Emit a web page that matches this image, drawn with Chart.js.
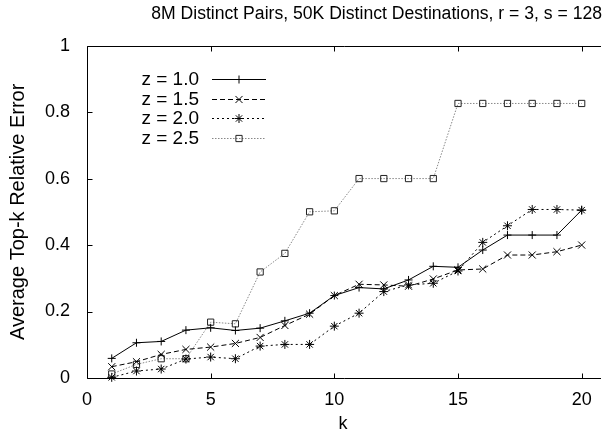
<!DOCTYPE html>
<html>
<head>
<meta charset="utf-8">
<script src="https://cdn.jsdelivr.net/npm/chart.js@4/dist/chart.umd.min.js"></script>
<style>
  html, body { margin: 0; padding: 0; background: #fff; }
  #wrap { width: 605px; height: 438px; }
</style>
</head>
<body>
<div id="wrap"><canvas id="topkChart"></canvas></div>
<script>
// data
const kValues = [1, 2, 3, 4, 5, 6, 7, 8, 9, 10, 11, 12, 13, 14, 15, 16, 17, 18, 19, 20];
const seriesLabels = ['z = 1.0', 'z = 1.5', 'z = 2.0', 'z = 2.5'];
const errZ10 = [0.059, 0.106, 0.110, 0.144, 0.151, 0.143, 0.150, 0.172, 0.195, 0.248, 0.272, 0.268, 0.295, 0.336, 0.333, 0.385, 0.430, 0.430, 0.430, 0.505];
const errZ15 = [0.034, 0.049, 0.071, 0.086, 0.093, 0.104, 0.122, 0.158, 0.192, 0.248, 0.282, 0.280, 0.276, 0.298, 0.325, 0.328, 0.370, 0.370, 0.380, 0.400];
const errZ20 = [0.002, 0.021, 0.027, 0.057, 0.063, 0.058, 0.096, 0.101, 0.101, 0.156, 0.195, 0.260, 0.280, 0.285, 0.322, 0.408, 0.458, 0.507, 0.507, 0.505];
const errZ25 = [0.012, 0.041, 0.058, 0.058, 0.168, 0.163, 0.319, 0.375, 0.500, 0.503, 0.600, 0.600, 0.600, 0.600, 0.826, 0.826, 0.826, 0.826, 0.826, 0.826];
const xTicks = [0, 5, 10, 15, 20];
const yTicks = [0, 0.2, 0.4, 0.6, 0.8, 1];

const FONT = '"Liberation Sans", Arial, Helvetica, sans-serif';
Chart.defaults.font.family = FONT;
Chart.defaults.color = '#000';

function toPoints(vals) {
    return vals.map((v, i) => ({ x: kValues[i], y: v }));
}

const styles = [
    { color: '#000', dash: [], point: 'cross', radius: 4, pointColor: '#000' },
    { color: '#000', dash: [5, 3], point: 'crossRot', radius: 5, pointColor: '#000' },
    { color: '#000', dash: [2, 3], point: 'star', radius: 4.5, pointColor: '#000' },
    { color: '#888', dash: [1.5, 1.5], point: 'rect', radius: 4.4, pointColor: '#222' }
];
const allSeries = [errZ10, errZ15, errZ20, errZ25];

const datasets = allSeries.map((vals, i) => ({
    label: seriesLabels[i],
    data: toPoints(vals),
    borderColor: styles[i].color,
    borderWidth: 1,
    borderDash: styles[i].dash,
    pointStyle: styles[i].point,
    pointRadius: styles[i].radius,
    pointBorderColor: styles[i].pointColor,
    pointBackgroundColor: 'rgba(0,0,0,0)',
    pointBorderWidth: 1,
    tension: 0,
    clip: false
}));

// gnuplot style frame: top/left/bottom lines with ticks pointing inward
const framePlugin = {
    id: 'frame',
    afterDatasetsDraw(chart) {
        const { ctx, chartArea } = chart;
        const xs = chart.scales.x, ys = chart.scales.y;
        const L = Math.round(chartArea.left) + 0.5;
        const T = Math.round(chartArea.top) + 0.5;
        const B = Math.round(chartArea.bottom) + 0.5;
        const R = chartArea.right + 2;
        ctx.save();
        ctx.strokeStyle = '#000';
        ctx.lineWidth = 1;
        ctx.setLineDash([]);
        ctx.beginPath();
        ctx.moveTo(R, T); ctx.lineTo(L, T); ctx.lineTo(L, B); ctx.lineTo(R, B);
        xTicks.forEach(v => {
            const px = Math.round(xs.getPixelForValue(v)) + 0.5;
            ctx.moveTo(px, B); ctx.lineTo(px, B - 5);
            ctx.moveTo(px, T); ctx.lineTo(px, T + 5);
        });
        yTicks.forEach(v => {
            const py = Math.round(ys.getPixelForValue(v)) + 0.5;
            ctx.moveTo(L, py); ctx.lineTo(L + 5, py);
        });
        ctx.stroke();
        ctx.restore();
    }
};

// legend inside the plot, text on the left and line sample on the right
const keyPlugin = {
    id: 'key',
    afterDraw(chart) {
        const { ctx } = chart;
        const textRight = 199, lineX1 = 212, lineX2 = 266, rowY0 = 79, rowGap = 19.5;
        ctx.save();
        ctx.font = '19px ' + FONT;
        ctx.textAlign = 'right';
        ctx.textBaseline = 'middle';
        chart.data.datasets.forEach((ds, i) => {
            const y = rowY0 + i * rowGap;
            ctx.fillStyle = '#000';
            ctx.fillText(ds.label, textRight, y + 1);
            ctx.strokeStyle = ds.borderColor;
            ctx.lineWidth = 1;
            ctx.setLineDash(ds.borderDash);
            ctx.beginPath();
            ctx.moveTo(lineX1, Math.round(y) + 0.5);
            ctx.lineTo(lineX2, Math.round(y) + 0.5);
            ctx.stroke();
            ctx.setLineDash([]);
            ctx.strokeStyle = ds.pointBorderColor;
            ctx.fillStyle = 'rgba(0,0,0,0)';
            Chart.helpers.drawPoint(ctx, {
                pointStyle: ds.pointStyle,
                radius: ds.pointRadius,
                rotation: 0,
                borderWidth: 1
            }, (lineX1 + lineX2) / 2, Math.round(y) + 0.5);
        });
        ctx.restore();
    }
};

const ctx = document.getElementById('topkChart').getContext('2d');
new Chart(ctx, {
    type: 'line',
    data: { datasets },
    options: {
        responsive: true,
        maintainAspectRatio: false,
        animation: false,
        layout: { padding: { left: 0, right: 3, top: 0, bottom: 0 } },
        plugins: {
            legend: { display: false },
            tooltip: { enabled: false },
            title: {
                display: true,
                text: '8M Distinct Pairs, 50K Distinct Destinations, r = 3, s = 128',
                align: 'end',
                color: '#000',
                font: { size: 17.6, weight: 'normal' },
                padding: { top: 4, bottom: 20.5 }
            }
        },
        scales: {
            x: {
                type: 'linear',
                min: 0,
                max: 20.7,
                grid: { display: false },
                border: { display: false },
                afterFit(s) { s.height = 60; },
                afterBuildTicks(s) { s.ticks = xTicks.map(v => ({ value: v })); },
                ticks: { font: { size: 18 }, padding: 3, maxRotation: 0, autoSkip: false },
                title: { display: true, text: 'k', font: { size: 18 }, padding: { top: 0, bottom: 3 } }
            },
            y: {
                min: 0,
                max: 1,
                grid: { display: false },
                border: { display: false },
                afterFit(s) { s.width = 87; },
                afterBuildTicks(s) { s.ticks = yTicks.map(v => ({ value: v })); },
                ticks: {
                    font: { size: 18 },
                    padding: 9,
                    callback: v => String(Math.round(v * 10) / 10)
                },
                title: { display: true, text: 'Average Top-k Relative Error', font: { size: 20 }, padding: { top: 6, bottom: 0 } }
            }
        }
    },
    plugins: [framePlugin, keyPlugin]
});
</script>
</body>
</html>
